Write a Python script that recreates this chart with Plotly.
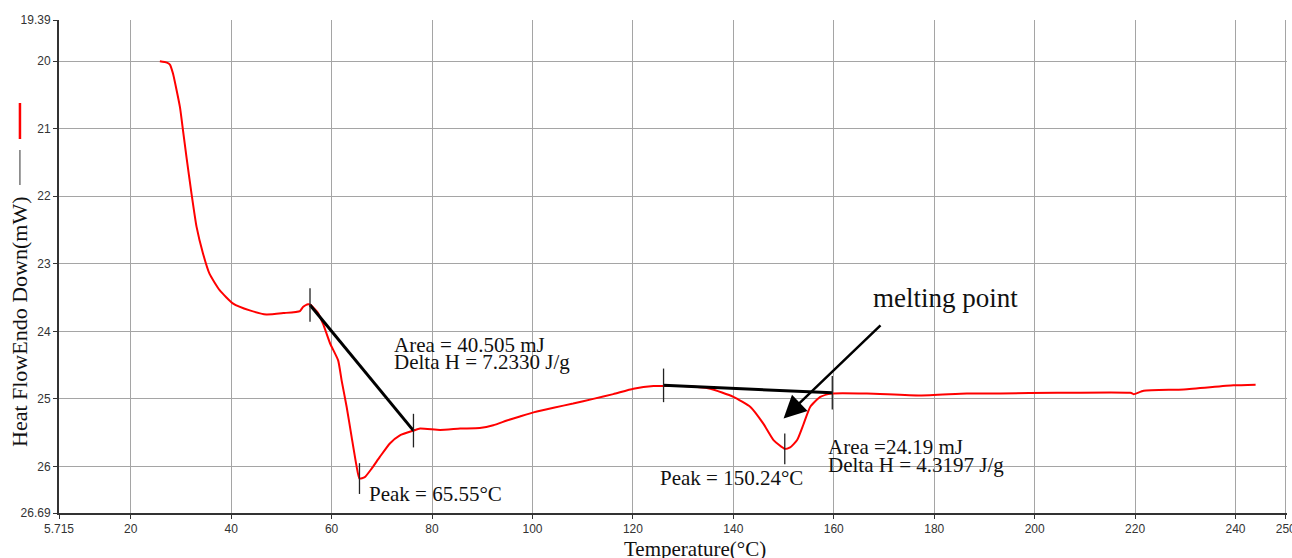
import plotly.graph_objects as go

# ---------------- data ----------------
temp = [25.8, 27.2, 27.8, 28.4, 29.8, 30.4, 31.1, 32.1, 33.1, 34.4, 35.7, 37.7, 40.4, 43.7,
        47.0, 50.4, 53.7, 54.3, 55.3, 55.9, 56.5, 57.2, 58.3, 59.7, 61.3, 62.0, 63.0, 64.0,
        65.0, 65.55, 66.6, 68.0, 69.6, 71.6, 73.6, 76.3, 77.6, 81.6, 85.6, 89.5, 92.2, 94.9,
        97.5, 100.2, 104.2, 108.1, 112.1, 116.1, 120.1, 124.1, 126.1, 130.1, 135.4, 140.0,
        143.4, 146.0, 148.0, 150.24, 151.3, 152.7, 154.0, 155.3, 157.3, 159.6, 166.6, 177.2,
        186.5, 193.2, 204.5, 219.1, 219.7, 221.7, 229.7, 239.6, 244.0]
heat = [20.00, 20.02, 20.05, 20.18, 20.68, 21.02, 21.42, 21.96, 22.45, 22.85, 23.15, 23.39,
        23.59, 23.69, 23.75, 23.73, 23.70, 23.64, 23.60, 23.61, 23.66, 23.72, 23.89, 24.18,
        24.43, 24.73, 25.12, 25.57, 26.01, 26.18, 26.16, 26.03, 25.86, 25.66, 25.54, 25.47,
        25.44, 25.46, 25.44, 25.43, 25.39, 25.32, 25.26, 25.20, 25.13, 25.07, 25.00, 24.93,
        24.85, 24.81, 24.81, 24.81, 24.85, 24.97, 25.12, 25.37, 25.61, 25.74, 25.72, 25.61,
        25.37, 25.12, 24.97, 24.92, 24.92, 24.95, 24.92, 24.92, 24.91, 24.91, 24.93, 24.88,
        24.86, 24.80, 24.79]

# integration baselines (start/end points)
base1_t = [55.7, 76.3]
base1_h = [23.61, 25.47]
base2_t = [126.1, 159.7]
base2_h = [24.80, 24.91]

# peaks
peak_t = [65.55, 150.24]
peak_h = [26.18, 25.74]

# melting point arrow (head, tail)
arrow_head = (150.0, 25.29)
arrow_tail = (169.6, 23.89)

x_ticks = [5.715, 20, 40, 60, 80, 100, 120, 140, 160, 180, 200, 220, 240, 250]
x_ticklabels = ["5.715", "20", "40", "60", "80", "100", "120", "140", "160", "180",
                "200", "220", "240", "250"]
y_ticks = [19.39, 20, 21, 22, 23, 24, 25, 26, 26.69]
y_ticklabels = ["19.39", "20", "21", "22", "23", "24", "25", "26", "26.69"]
x_grid = [20, 40, 60, 80, 100, 120, 140, 160, 180, 200, 220, 240, 250]
y_grid = [20, 21, 22, 23, 24, 25, 26]

# ---------------- figure ----------------
SERIF = "Liberation Serif, Times New Roman, serif"
SANS = "Liberation Sans, Arial, sans-serif"
TICKMARK = "#222"

fig = go.Figure()

fig.add_trace(go.Scatter(x=temp, y=heat, mode="lines",
                         line=dict(color="#ff0000", width=2, shape="spline", smoothing=0.5),
                         showlegend=False, hoverinfo="skip"))

for bt, bh in ((base1_t, base1_h), (base2_t, base2_h)):
    fig.add_trace(go.Scatter(x=bt, y=bh, mode="lines+markers",
                             line=dict(color="black", width=3),
                             marker=dict(symbol="line-ns-open", size=24, color=TICKMARK,
                                         line=dict(color=TICKMARK, width=1.3)),
                             showlegend=False, hoverinfo="skip"))

fig.add_trace(go.Scatter(x=peak_t, y=peak_h, mode="markers",
                         marker=dict(symbol="line-ns-open", size=22, color=TICKMARK,
                                     line=dict(color=TICKMARK, width=1.3)),
                         showlegend=False, hoverinfo="skip"))

def txt(x, y, s, size=21):
    fig.add_annotation(x=x, y=y, xref="x", yref="y", text=s, showarrow=False,
                       xanchor="left", yanchor="middle",
                       font=dict(family=SERIF, size=size, color="#111"))

txt(72.1, 24.20, "Area = 40.505 mJ")
txt(72.1, 24.46, "Delta H = 7.2330 J/g")
txt(67.0, 26.41, "Peak = 65.55°C")
txt(125.0, 26.17, "Peak = 150.24°C")
txt(158.5, 25.72, "Area =24.19 mJ")
txt(158.5, 25.98, "Delta H = 4.3197 J/g")
txt(167.5, 23.50, "melting point", size=27)

fig.add_annotation(x=arrow_head[0], y=arrow_head[1], ax=arrow_tail[0], ay=arrow_tail[1],
                   xref="x", yref="y", axref="x", ayref="y", text="",
                   showarrow=True, arrowhead=2, arrowsize=1.8, arrowwidth=2.5,
                   arrowcolor="black", standoff=0)

# axis titles
fig.add_annotation(x=0.5178, y=0, xref="paper", yref="paper", yshift=-36,
                   text="Temperature(°C)", showarrow=False, xanchor="center", yanchor="middle",
                   font=dict(family=SERIF, size=21, color="#111"))
fig.add_annotation(x=0, y=0.3874, xref="paper", yref="paper", xshift=-40,
                   text="Heat FlowEndo Down(mW)", textangle=-90, showarrow=False,
                   xanchor="center", yanchor="middle",
                   font=dict(family=SERIF, size=22, color="#111"))

# legend glyphs beside y title
fig.add_shape(type="line", xref="paper", yref="paper", x0=-0.0318, x1=-0.0318,
              y0=0.7586, y1=0.8316, line=dict(color="#ff0000", width=2.5))
fig.add_shape(type="line", xref="paper", yref="paper", x0=-0.0318, x1=-0.0318,
              y0=0.6653, y1=0.7363, line=dict(color="#333", width=1))

grid_col = "rgb(165,165,165)"
fig.update_xaxes(range=[5.715, 250.25], tickmode="array", tickvals=x_ticks, ticktext=x_ticklabels,
                 showgrid=False, zeroline=False, showline=True, linecolor="#333", linewidth=2,
                 ticks="outside", ticklen=4, tickcolor="#333", ticklabeloverflow="allow",
                 automargin=False,
                 tickfont=dict(family=SANS, size=12, color="#333"),
                 minor=dict(tickmode="array", tickvals=x_grid, showgrid=True,
                            gridcolor=grid_col, gridwidth=1.3, ticks=""))
fig.update_yaxes(range=[26.69, 19.39], tickmode="array", tickvals=y_ticks, ticktext=y_ticklabels,
                 showgrid=False, zeroline=False, showline=True, linecolor="#333", linewidth=2,
                 ticks="outside", ticklen=4, tickcolor="#333", automargin=False,
                 tickfont=dict(family=SANS, size=12, color="#333"),
                 minor=dict(tickmode="array", tickvals=y_grid, showgrid=True,
                            gridcolor=grid_col, gridwidth=1.3, ticks=""))

fig.update_layout(width=1292, height=558, margin=dict(l=59, r=5, t=20, b=45),
                  plot_bgcolor="white", paper_bgcolor="white", showlegend=False)

fig.write_html("out.html")
